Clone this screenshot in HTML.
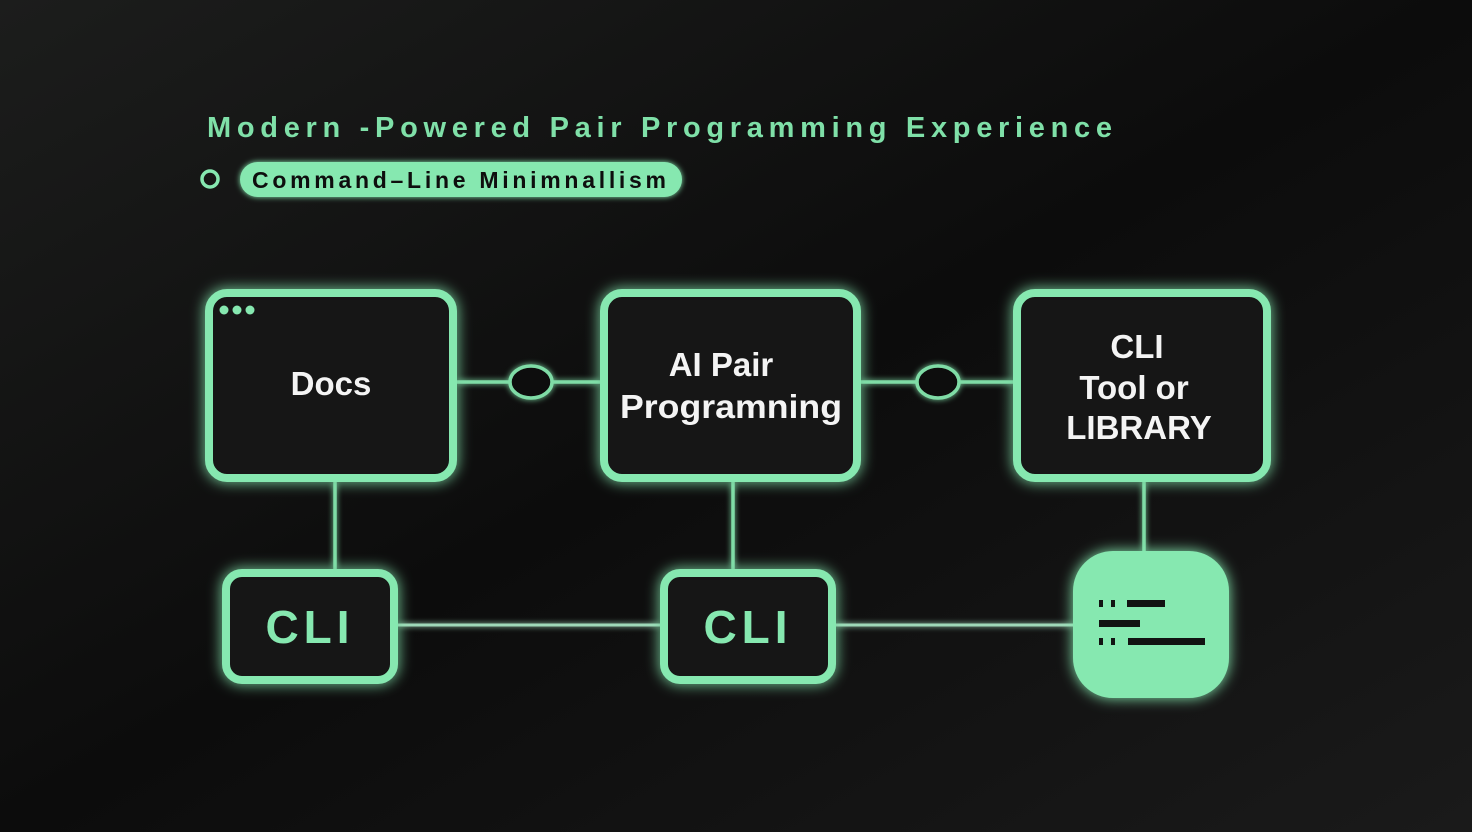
<!DOCTYPE html>
<html><head><meta charset="utf-8"><style>
html,body{margin:0;padding:0;width:1472px;height:832px;overflow:hidden;background:#111;}
svg{display:block}
text{font-family:"Liberation Sans","DejaVu Sans",sans-serif;font-weight:bold}
</style></head><body>
<svg width="1472" height="832" viewBox="0 0 1472 832" xmlns="http://www.w3.org/2000/svg">
<defs>
<linearGradient id="bg" x1="0" y1="0" x2="1" y2="1">
<stop offset="0" stop-color="#1c1d1c"/><stop offset="0.5" stop-color="#0c0c0c"/><stop offset="1" stop-color="#1a1a1a"/>
</linearGradient>
<filter id="glow" x="-30%" y="-30%" width="160%" height="160%">
<feGaussianBlur stdDeviation="7" result="b"/>
<feMerge><feMergeNode in="b"/><feMergeNode in="SourceGraphic"/></feMerge>
</filter>
<filter id="glow2" x="-30%" y="-30%" width="160%" height="160%">
<feGaussianBlur stdDeviation="3" result="b"/>
<feMerge><feMergeNode in="b"/><feMergeNode in="SourceGraphic"/></feMerge>
</filter>
</defs>
<rect width="1472" height="832" fill="url(#bg)"/>

<text x="207" y="137" font-size="29" fill="#7fe0a8" textLength="905" lengthAdjust="spacing">Modern -Powered  Pair  Programming  Experience</text>
<circle cx="210" cy="179" r="8" fill="none" stroke="#86e8b0" stroke-width="3.5"/>
<rect x="240" y="162" width="442" height="35" rx="17.5" fill="#86e8b0" filter="url(#glow2)"/>
<text x="252" y="188" font-size="23" fill="#0e0e0e" textLength="414" lengthAdjust="spacing">Command–Line Minimnallism</text>

<g stroke="#7fdca6" stroke-width="3.5" fill="none" filter="url(#glow2)">
<line x1="457" y1="382" x2="600" y2="382"/>
<line x1="861" y1="382" x2="1013" y2="382"/>
<line x1="335" y1="482" x2="335" y2="569"/>
<line x1="733" y1="482" x2="733" y2="569"/>
<line x1="1144" y1="482" x2="1144" y2="551"/>
<line x1="398" y1="625" x2="660" y2="625" stroke="#9fd8b8" stroke-width="3"/>
<line x1="836" y1="625" x2="1073" y2="625" stroke="#9fd8b8" stroke-width="3"/>
<ellipse cx="531" cy="382" rx="21" ry="16" fill="#0e0e0e"/>
<ellipse cx="938" cy="382" rx="21" ry="16" fill="#0e0e0e"/>
</g>

<g stroke="#86e8b0" stroke-width="8" fill="#121212" filter="url(#glow)">
<rect x="209" y="293" width="244" height="185" rx="18"/>
<rect x="604" y="293" width="253" height="185" rx="18"/>
<rect x="1017" y="293" width="250" height="185" rx="18"/>
<rect x="226" y="573" width="168" height="107" rx="16"/>
<rect x="664" y="573" width="168" height="107" rx="16"/>
</g>
<rect x="1073" y="551" width="156" height="147" rx="40" fill="#86e8b0" filter="url(#glow)"/>
<g fill="#121212">
<rect x="1099" y="600" width="4" height="7"/><rect x="1111" y="600" width="4" height="7"/><rect x="1127" y="600" width="38" height="7"/>
<rect x="1099" y="620" width="41" height="7"/>
<rect x="1099" y="638" width="4" height="7"/><rect x="1111" y="638" width="4" height="7"/><rect x="1128" y="638" width="77" height="7"/>
</g>
<g fill="#86e8b0"><circle cx="224" cy="310" r="4.5"/><circle cx="237" cy="310" r="4.5"/><circle cx="250" cy="310" r="4.5"/></g>

<g fill="#f4f4f4" text-anchor="middle" font-size="33">
<text x="331" y="395">Docs</text>
<text x="721" y="376">AI Pair</text>
<text x="731" y="418" textLength="222" lengthAdjust="spacingAndGlyphs">Programning</text>
<text x="1137" y="358">CLI</text>
<text x="1134" y="399">Tool or</text>
<text x="1139" y="439">LIBRARY</text>
</g>
<g fill="#86e8b0" text-anchor="middle" font-size="46" letter-spacing="5">
<text x="310" y="643">CLI</text>
<text x="748" y="643">CLI</text>
</g>
</svg>
</body></html>
